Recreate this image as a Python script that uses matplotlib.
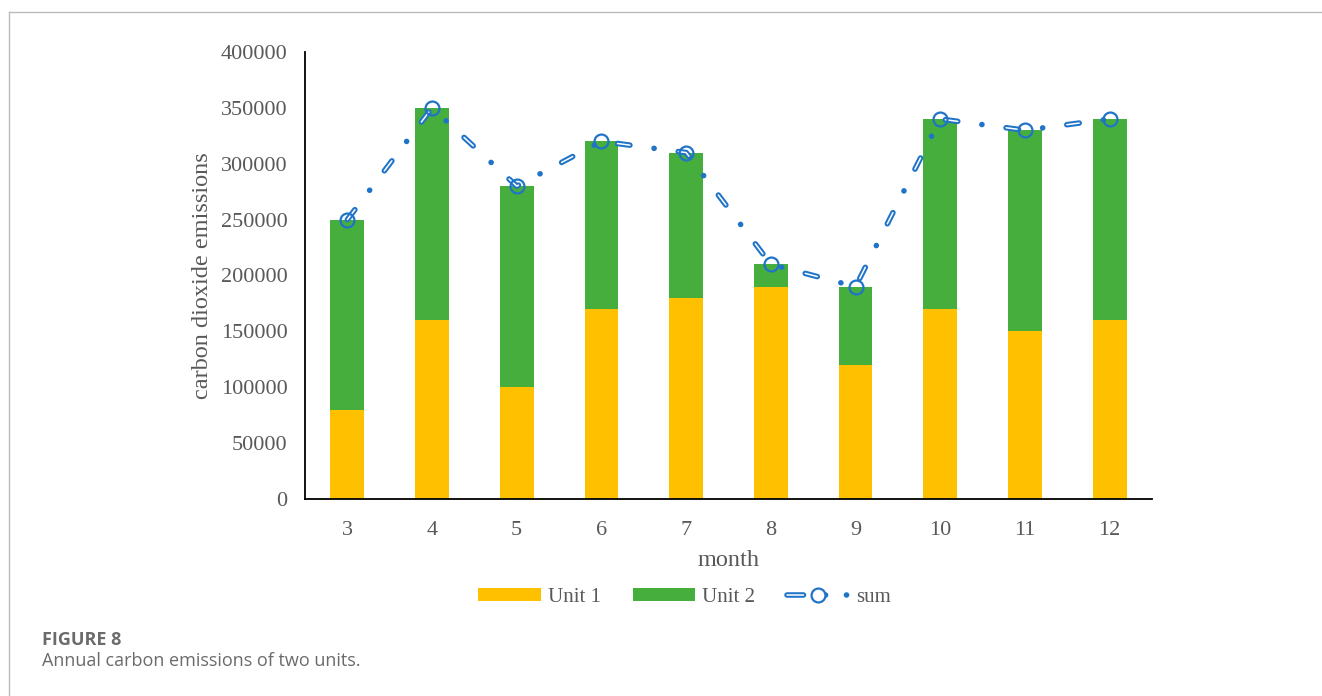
import matplotlib.pyplot as plt
from matplotlib.lines import Line2D
from matplotlib.patches import Patch
from matplotlib.legend_handler import HandlerTuple
import numpy as np

months = ['3', '4', '5', '6', '7', '8', '9', '10', '11', '12']
unit1 = [80000, 160000, 100000, 170000, 180000, 190000, 120000, 170000, 150000, 160000]
totals = [250000, 350000, 280000, 320000, 310000, 210000, 190000, 340000, 330000, 340000]
unit2 = [t - u for t, u in zip(totals, unit1)]
yticks = [0, 50000, 100000, 150000, 200000, 250000, 300000, 350000, 400000]

YELLOW = '#ffc000'
GREEN = '#46ae3c'
BLUE = '#1f74c8'
TEXT = '#595959'
CAPTION = '#6b6b6b'

plt.rcParams['font.family'] = ['Liberation Serif', 'DejaVu Serif']
plt.rcParams['lines.scale_dashes'] = False

# dash-dot pattern of the total line (points), white core only in the dashes
OUTER_DASH = (0, (9, 17.5, 0.1, 17.5))
INNER_DASH = (0, (9, 35.1))


def main():
    fig = plt.figure(figsize=(13.22, 6.96), dpi=100)
    ax = fig.add_axes([305 / 1322, 1 - 499 / 696, 847 / 1322, 447 / 696])

    x = np.arange(len(months))
    ax.bar(x, unit1, width=0.4, color=YELLOW, zorder=2)
    ax.bar(x, unit2, width=0.4, bottom=unit1, color=GREEN, zorder=2)

    # total line: blue dash-dot with a white core in the dashes
    ax.plot(x, totals, color=BLUE, linewidth=4.0, linestyle=OUTER_DASH,
            dash_capstyle='round', zorder=3)
    ax.plot(x, totals, color='white', linewidth=1.1, linestyle=INNER_DASH,
            dash_capstyle='round', zorder=4)
    ax.plot(x, totals, linestyle='none', marker='o', markersize=10,
            markerfacecolor='none', markeredgecolor=BLUE,
            markeredgewidth=1.6, zorder=5)

    ax.set_xlim(-0.5, len(months) - 0.5)
    ax.set_ylim(0, 400000)
    ax.set_xticks(x)
    ax.set_xticklabels(months)
    ax.set_yticks(yticks)
    ax.set_yticklabels([str(v) for v in yticks])
    ax.tick_params(axis='both', length=0, labelsize=16, labelcolor=TEXT)
    ax.tick_params(axis='y', pad=12.5)
    ax.tick_params(axis='x', pad=16)

    for side in ['top', 'right']:
        ax.spines[side].set_visible(False)
    for side in ['left', 'bottom']:
        ax.spines[side].set_linewidth(1.3)
        ax.spines[side].set_color('black')

    ax.set_ylabel('carbon dioxide emissions', fontsize=17.5, color=TEXT)
    ax.yaxis.set_label_coords(-0.121, 0.5)
    ax.set_xlabel('month', fontsize=17.5, color=TEXT)
    ax.xaxis.set_label_coords(0.5, -0.137)
    ax.xaxis.label.set_va('center')
    ax.yaxis.label.set_va('center')

    # legend
    h1 = Patch(facecolor=YELLOW, edgecolor='none')
    h2 = Patch(facecolor=GREEN, edgecolor='none')
    l_out = Line2D([], [], color=BLUE, linewidth=4.0, dash_capstyle='round',
                   linestyle=(0, (11.9, 7.6, 8.3, 15, 0.1, 60)))
    l_in = Line2D([], [], color='white', linewidth=1.1, dash_capstyle='round',
                  linestyle=(0, (11.9, 100)))
    l_mk = Line2D([], [], linestyle='none', marker='o', markersize=10,
                  markerfacecolor='white', markeredgecolor=BLUE,
                  markeredgewidth=1.6)
    fig.legend([h1, h2, (l_out, l_in, l_mk)], ['Unit 1', 'Unit 2', 'sum'],
               handler_map={tuple: HandlerTuple(ndivide=1, pad=0)},
               loc='center', bbox_to_anchor=(0.518, 0.142), ncol=3,
               frameon=False, fontsize=15, labelcolor=TEXT,
               handlelength=3.0, handleheight=0.6, handletextpad=0.35,
               columnspacing=1.5)

    # page frame lines
    fig.add_artist(Line2D([9 / 1322, 1], [1 - 12 / 696, 1 - 12 / 696],
                          color='#bbbbbb', linewidth=1.0))
    fig.add_artist(Line2D([9 / 1322, 9 / 1322], [0, 1 - 12 / 696],
                          color='#bbbbbb', linewidth=1.0))

    # caption
    fig.text(42 / 1322, 1 - 640 / 696, 'FIGURE 8', fontsize=13,
             fontweight='bold', color=CAPTION, family=['Open Sans', 'DejaVu Sans'],
             va='center', ha='left')
    fig.text(42 / 1322, 1 - 661 / 696, 'Annual carbon emissions of two units.',
             fontsize=13, color=CAPTION, family=['Open Sans', 'DejaVu Sans'],
             va='center', ha='left')

    fig.savefig('out.png', dpi=100)


if __name__ == '__main__':
    main()
